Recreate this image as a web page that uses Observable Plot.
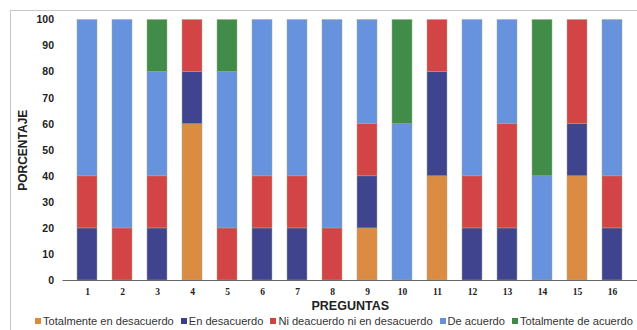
<!DOCTYPE html>
<html><head><meta charset="utf-8">
<script src="https://cdn.jsdelivr.net/npm/d3@7"></script>
<script src="https://cdn.jsdelivr.net/npm/@observablehq/plot@0.6"></script>
<style>
body{margin:0;background:#fff;width:637px;height:330px;overflow:hidden;position:relative;font-family:"Liberation Sans",Arial,sans-serif}
#frame{position:absolute;left:10px;top:10px;width:700px;height:400px;border:1px solid #c8c8c8;box-sizing:border-box}
#chart{position:absolute;left:0;top:0}
#legend{position:absolute;left:35px;top:315px;white-space:nowrap;font-size:11.1px;color:#333;display:flex;gap:7px}
#legend span.sw{display:inline-block;width:6px;height:6px;margin-right:2px;vertical-align:1px}
</style></head><body>
<div id="frame"></div>
<div id="chart"></div>
<div id="legend"></div>
<script>
const preguntas = ["1","2","3","4","5","6","7","8","9","10","11","12","13","14","15","16"];
const categorias = ["Totalmente en desacuerdo","En desacuerdo","Ni deacuerdo ni en desacuerdo","De acuerdo","Totalmente de acuerdo"];
const colores = ["#DB8A3E","#3C3F8C","#D24043","#6490DC","#3E8A45"];
const totDesacuerdo = [0,0,0,60,0,0,0,0,20,0,40,0,0,0,40,0];
const enDesacuerdo  = [20,0,20,20,0,20,20,0,20,0,40,20,20,0,20,20];
const niNi          = [20,20,20,20,20,20,20,20,20,0,20,20,40,0,40,20];
const deAcuerdo     = [60,80,40,0,60,60,60,80,40,60,0,60,40,40,0,60];
const totAcuerdo    = [0,0,20,0,20,0,0,0,0,40,0,0,0,60,0,0];
const yTicks = [0,10,20,30,40,50,60,70,80,90,100];

const series = [totDesacuerdo,enDesacuerdo,niNi,deAcuerdo,totAcuerdo];
const data = [];
series.forEach((vals,si)=>vals.forEach((v,qi)=>{
  if(v>0) data.push({pregunta:preguntas[qi],cat:categorias[si],idx:si,valor:v});
}));

const chart = Plot.plot({
  width:637, height:312,
  marginLeft:62.5, marginRight:0, marginTop:19.5, marginBottom:32,
  style:{fontFamily:"Liberation Sans, Arial, sans-serif", background:"transparent"},
  x:{domain:preguntas, paddingInner:0.42, paddingOuter:0.21, label:null, axis:null},
  y:{domain:[0,100], ticks:yTicks, label:null, axis:null},
  color:{domain:categorias, range:colores},
  marks:[
    Plot.barY(data, Plot.stackY({x:"pregunta", y:"valor", fill:"cat", order:"idx", stroke:"#9fb08a", strokeWidth:0.6, strokeOpacity:0.8, fillOpacity:0.98})),
    Plot.ruleY(yTicks.filter(d=>d>0), {stroke:"#555", strokeOpacity:0.5, strokeWidth:1, x1:null}),
    Plot.ruleY([0], {stroke:"#666", strokeWidth:1}),
    Plot.axisY({ticks:yTicks, tickSize:0, tickPadding:9, fontWeight:"bold", fontSize:10.5, fill:"#222", label:null}),
    Plot.axisX({tickSize:0, tickPadding:8, fontWeight:"bold", fontSize:9.5, fontFamily:"Liberation Serif, serif", fill:"#222", label:null}),
    Plot.text(["PREGUNTAS"], {frameAnchor:"bottom", textAnchor:"middle", dy:29, fontWeight:"bold", fontSize:12.5, fill:"#222"}),
    Plot.text(["PORCENTAJE"], {frameAnchor:"left", textAnchor:"middle", dx:-40, rotate:-90, fontWeight:"bold", fontSize:12, fill:"#222"})
  ]
});
document.getElementById("chart").appendChild(chart);

const leg = document.getElementById("legend");
categorias.forEach((c,i)=>{
  const it = document.createElement("span");
  it.innerHTML = `<span class="sw" style="background:${colores[i]}"></span>${c}`;
  leg.appendChild(it);
});
</script>
</body></html>
